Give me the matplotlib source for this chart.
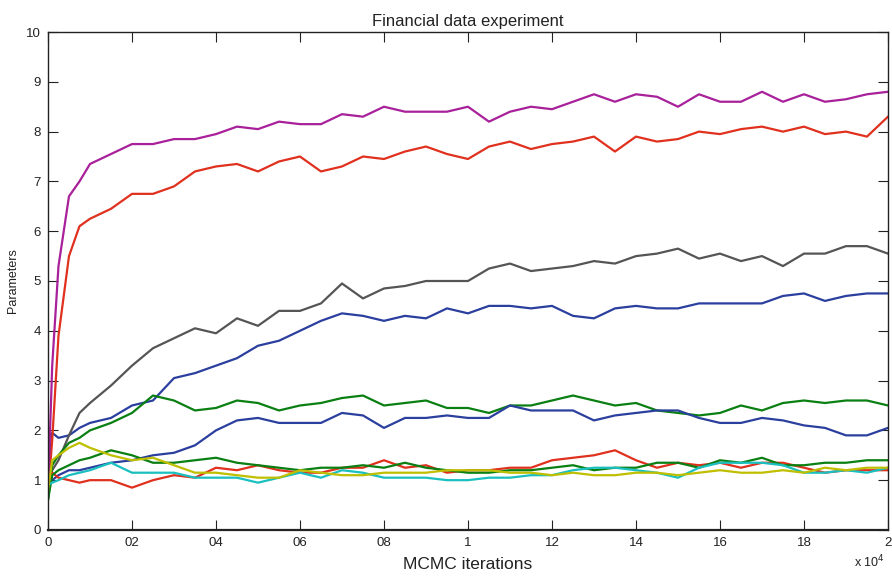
import matplotlib.pyplot as plt

plt.rcParams['font.family'] = ['Liberation Sans', 'DejaVu Sans']

# iteration grid (in thousands of iterations)
iters_k = [0, 0.1, 0.25, 0.5, 0.75,
           1.0, 1.5, 2.0, 2.5, 3.0, 3.5, 4.0, 4.5, 5.0, 5.5,
           6.0, 6.5, 7.0, 7.5, 8.0, 8.5, 9.0, 9.5, 10.0, 10.5,
           11.0, 11.5, 12.0, 12.5, 13.0, 13.5, 14.0, 14.5, 15.0, 15.5,
           16.0, 16.5, 17.0, 17.5, 18.0, 18.5, 19.0, 19.5, 20.0]

magenta = [0.7, 3.3, 5.3, 6.7, 7.0,
           7.35, 7.55, 7.75, 7.75, 7.85, 7.85, 7.95, 8.1, 8.05, 8.2,
           8.15, 8.15, 8.35, 8.3, 8.5, 8.4, 8.4, 8.4, 8.5, 8.2,
           8.4, 8.5, 8.45, 8.6, 8.75, 8.6, 8.75, 8.7, 8.5, 8.75,
           8.6, 8.6, 8.8, 8.6, 8.75, 8.6, 8.65, 8.75, 8.8]
red_hi = [0.7, 1.8, 3.9, 5.5, 6.1,
          6.25, 6.45, 6.75, 6.75, 6.9, 7.2, 7.3, 7.35, 7.2, 7.4,
          7.5, 7.2, 7.3, 7.5, 7.45, 7.6, 7.7, 7.55, 7.45, 7.7,
          7.8, 7.65, 7.75, 7.8, 7.9, 7.6, 7.9, 7.8, 7.85, 8.0,
          7.95, 8.05, 8.1, 8.0, 8.1, 7.95, 8.0, 7.9, 8.3]
gray = [1.0, 1.2, 1.4, 1.9, 2.35,
        2.55, 2.9, 3.3, 3.65, 3.85, 4.05, 3.95, 4.25, 4.1, 4.4,
        4.4, 4.55, 4.95, 4.65, 4.85, 4.9, 5.0, 5.0, 5.0, 5.25,
        5.35, 5.2, 5.25, 5.3, 5.4, 5.35, 5.5, 5.55, 5.65, 5.45,
        5.55, 5.4, 5.5, 5.3, 5.55, 5.55, 5.7, 5.7, 5.55]
blue_hi = [1.0, 1.95, 1.85, 1.9, 2.05,
           2.15, 2.25, 2.5, 2.6, 3.05, 3.15, 3.3, 3.45, 3.7, 3.8,
           4.0, 4.2, 4.35, 4.3, 4.2, 4.3, 4.25, 4.45, 4.35, 4.5,
           4.5, 4.45, 4.5, 4.3, 4.25, 4.45, 4.5, 4.45, 4.45, 4.55,
           4.55, 4.55, 4.55, 4.7, 4.75, 4.6, 4.7, 4.75, 4.75]
green_hi = [0.6, 1.3, 1.5, 1.75, 1.85,
            2.0, 2.15, 2.35, 2.7, 2.6, 2.4, 2.45, 2.6, 2.55, 2.4,
            2.5, 2.55, 2.65, 2.7, 2.5, 2.55, 2.6, 2.45, 2.45, 2.35,
            2.5, 2.5, 2.6, 2.7, 2.6, 2.5, 2.55, 2.4, 2.35, 2.3,
            2.35, 2.5, 2.4, 2.55, 2.6, 2.55, 2.6, 2.6, 2.5]
blue_lo = [0.9, 1.0, 1.1, 1.2, 1.2,
           1.25, 1.35, 1.4, 1.5, 1.55, 1.7, 2.0, 2.2, 2.25, 2.15,
           2.15, 2.15, 2.35, 2.3, 2.05, 2.25, 2.25, 2.3, 2.25, 2.25,
           2.5, 2.4, 2.4, 2.4, 2.2, 2.3, 2.35, 2.4, 2.4, 2.25,
           2.15, 2.15, 2.25, 2.2, 2.1, 2.05, 1.9, 1.9, 2.05]
red_lo = [0.7, 1.15, 1.05, 1.0, 0.95,
          1.0, 1.0, 0.85, 1.0, 1.1, 1.05, 1.25, 1.2, 1.3, 1.2,
          1.15, 1.15, 1.25, 1.25, 1.4, 1.25, 1.3, 1.15, 1.2, 1.2,
          1.25, 1.25, 1.4, 1.45, 1.5, 1.6, 1.4, 1.25, 1.35, 1.3,
          1.35, 1.25, 1.35, 1.35, 1.25, 1.15, 1.2, 1.2, 1.2]
green_lo = [0.6, 1.1, 1.2, 1.3, 1.4,
            1.45, 1.6, 1.5, 1.35, 1.35, 1.4, 1.45, 1.35, 1.3, 1.25,
            1.2, 1.25, 1.25, 1.3, 1.25, 1.35, 1.25, 1.2, 1.15, 1.15,
            1.2, 1.2, 1.25, 1.3, 1.2, 1.25, 1.25, 1.35, 1.35, 1.25,
            1.4, 1.35, 1.45, 1.3, 1.3, 1.35, 1.35, 1.4, 1.4]
cyan = [0.9, 0.95, 1.0, 1.1, 1.15,
        1.2, 1.35, 1.15, 1.15, 1.15, 1.05, 1.05, 1.05, 0.95, 1.05,
        1.15, 1.05, 1.2, 1.15, 1.05, 1.05, 1.05, 1.0, 1.0, 1.05,
        1.05, 1.1, 1.1, 1.2, 1.25, 1.25, 1.2, 1.15, 1.05, 1.25,
        1.35, 1.35, 1.35, 1.3, 1.15, 1.15, 1.2, 1.15, 1.25]
yellow = [0.8, 1.4, 1.5, 1.65, 1.75,
          1.65, 1.5, 1.4, 1.45, 1.3, 1.15, 1.15, 1.1, 1.05, 1.05,
          1.2, 1.15, 1.1, 1.1, 1.15, 1.15, 1.15, 1.2, 1.2, 1.2,
          1.15, 1.15, 1.1, 1.15, 1.1, 1.1, 1.15, 1.15, 1.1, 1.15,
          1.2, 1.15, 1.15, 1.2, 1.15, 1.25, 1.2, 1.25, 1.25]

series = [
    (blue_hi, '#2b3f9e'),
    (gray, '#555555'),
    (red_hi, '#e0301e'),
    (magenta, '#a8209a'),
    (green_hi, '#0a7f12'),
    (blue_lo, '#2b3f9e'),
    (red_lo, '#e0301e'),
    (green_lo, '#0a7f12'),
    (cyan, '#1abfbf'),
    (yellow, '#bfbf00'),
]

xs = [k / 10 for k in iters_k]  # axis is in units of 1e4

fig = plt.figure(figsize=(8.92, 5.77), dpi=100)
ax = fig.add_axes([0.0538, 0.0815, 0.9417, 0.863])

for vals, col in series:
    ax.plot(xs, vals, color=col, lw=1.6)

ax.set_xlim(0, 2)
ax.set_ylim(0, 10)
ax.set_xticks([0, 0.2, 0.4, 0.6, 0.8, 1.0, 1.2, 1.4, 1.6, 1.8, 2.0])
ax.set_xticklabels(['0', '02', '04', '06', '08', '1', '12', '14', '16', '18', '2'])
ax.set_yticks(range(0, 11))
ax.tick_params(direction='in', length=7, width=0.8, top=True, right=True,
               labelsize=9.5, colors='#222222', pad=5)
for s in ax.spines.values():
    s.set_linewidth(1.0)
    s.set_color('#222222')
ax.spines['bottom'].set_linewidth(1.6)

ax.set_title('Financial data experiment', fontsize=12, color='#222222', pad=4)
ax.set_xlabel('MCMC iterations', fontsize=12.5, color='#222222', labelpad=6)
ax.set_ylabel('Parameters', fontsize=9, color='#222222', labelpad=5)
fig.text(0.992, 0.012, r'x 10$^{4}$', ha='right', va='bottom', fontsize=9,
         color='#222222')

fig.savefig('out.png', dpi=100)
